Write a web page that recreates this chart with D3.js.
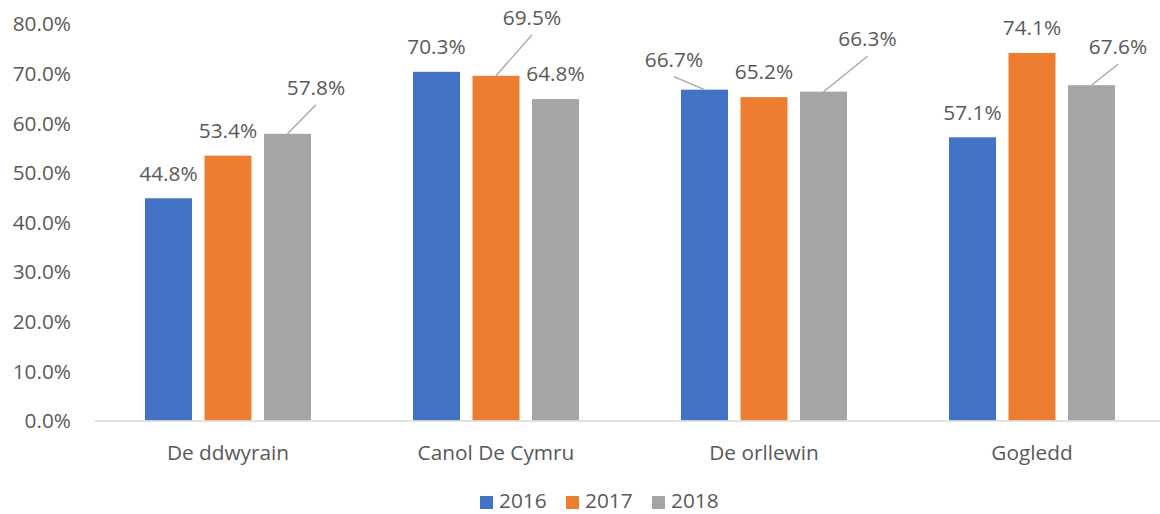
<!DOCTYPE html>
<html>
<head>
<meta charset="utf-8">
<script src="https://cdn.jsdelivr.net/npm/d3@7"></script>
<style>
  html, body { margin: 0; padding: 0; background: #fff; }
  svg { display: block; }
  text { font-family: "Open Sans", "Noto Sans", sans-serif; fill: #595959; }
</style>
</head>
<body>
<svg id="chart" width="1160" height="514"></svg>
<script>
// ---- data ----
const categories = ["De ddwyrain", "Canol De Cymru", "De orllewin", "Gogledd"];
const seriesNames = ["2016", "2017", "2018"];
const values2016 = [0.448, 0.703, 0.667, 0.571];
const values2017 = [0.534, 0.695, 0.652, 0.741];
const values2018 = [0.578, 0.648, 0.663, 0.676];
const yTicks = [0, 0.1, 0.2, 0.3, 0.4, 0.5, 0.6, 0.7, 0.8];

// ---- styling / layout ----
const colors = ["#4472C4", "#ED7D31", "#A5A5A5"];
const seriesValues = [values2016, values2017, values2018];
const FS = 20.8;
// manual nudges of data labels (series index, category index) -> [dx, dy]
const labelNudges = {
  "2-0": [28.5, -21],
  "1-1": [36, -33],
  "0-2": [-30.5, -5],
  "2-2": [44, -27.5],
  "2-3": [26.5, -13]
};

const svg = d3.select("#chart");
const x0 = d3.scaleBand().domain(categories).range([94, 1166]).padding(0);
const x1 = d3.scaleBand().domain(seriesNames).range([0, x0.bandwidth()])
  .paddingInner(0.21).paddingOuter(0.857);
const y = d3.scaleLinear().domain([0, 0.8]).range([420.5, 23.7]);
const fmt = d3.format(".1%");

// y axis labels
const yAxis = d3.axisLeft(y).tickValues(yTicks).tickFormat(fmt).tickSize(0).tickPadding(0);
const gy = svg.append("g").attr("transform", "translate(71,0)").call(yAxis);
gy.select(".domain").remove();
gy.selectAll("text").attr("font-size", FS).style("font-family", "'Open Sans', sans-serif")
  .attr("fill", "#595959").attr("dy", "0.35em");

// bars
const data = [];
seriesNames.forEach((s, si) => {
  categories.forEach((c, ci) => {
    data.push({ s, si, c, ci, v: seriesValues[si][ci] });
  });
});

svg.append("g").selectAll("rect").data(data).join("rect")
  .attr("x", d => x0(d.c) + x1(d.s))
  .attr("y", d => y(d.v))
  .attr("width", x1.bandwidth())
  .attr("height", d => y(0) - y(d.v))
  .attr("fill", d => colors[d.si]);

// x axis line
const xAxis = d3.axisBottom(x0).tickSize(0).tickPadding(0);
const gx = svg.append("g").attr("transform", `translate(0,${y(0)})`).call(xAxis);
gx.select(".domain").attr("stroke", "#D9D9D9").attr("stroke-width", 1.3);
gx.selectAll("text").attr("font-size", FS).style("font-family", "'Open Sans', sans-serif")
  .attr("fill", "#595959").attr("y", 32).attr("dy", "0.35em");

// data labels + leader lines
const labelG = svg.append("g");
data.forEach(d => {
  const cx = x0(d.c) + x1(d.s) + x1.bandwidth() / 2;
  const top = y(d.v);
  const nudge = labelNudges[`${d.si}-${d.ci}`] || [0, 0];
  const lx = cx + nudge[0];
  const ly = top - 25 + nudge[1];
  if (labelNudges[`${d.si}-${d.ci}`]) {
    labelG.append("line")
      .attr("x1", cx).attr("y1", top)
      .attr("x2", lx).attr("y2", ly + 17)
      .attr("stroke", "#A6A6A6").attr("stroke-width", 1.3);
  }
  labelG.append("text")
    .attr("x", lx).attr("y", ly).attr("dy", "0.35em")
    .attr("text-anchor", "middle").attr("font-size", FS)
    .text(fmt(d.v));
});

// legend
const legendItems = [
  { name: seriesNames[0], x: 480 },
  { name: seriesNames[1], x: 566 },
  { name: seriesNames[2], x: 652 }
];
const lg = svg.append("g");
legendItems.forEach((it, i) => {
  lg.append("rect").attr("x", it.x).attr("y", 496).attr("width", 13).attr("height", 13)
    .attr("fill", colors[i]);
  lg.append("text").attr("x", it.x + 19).attr("y", 507.5)
    .attr("font-size", FS).text(it.name);
});
</script>
</body>
</html>
